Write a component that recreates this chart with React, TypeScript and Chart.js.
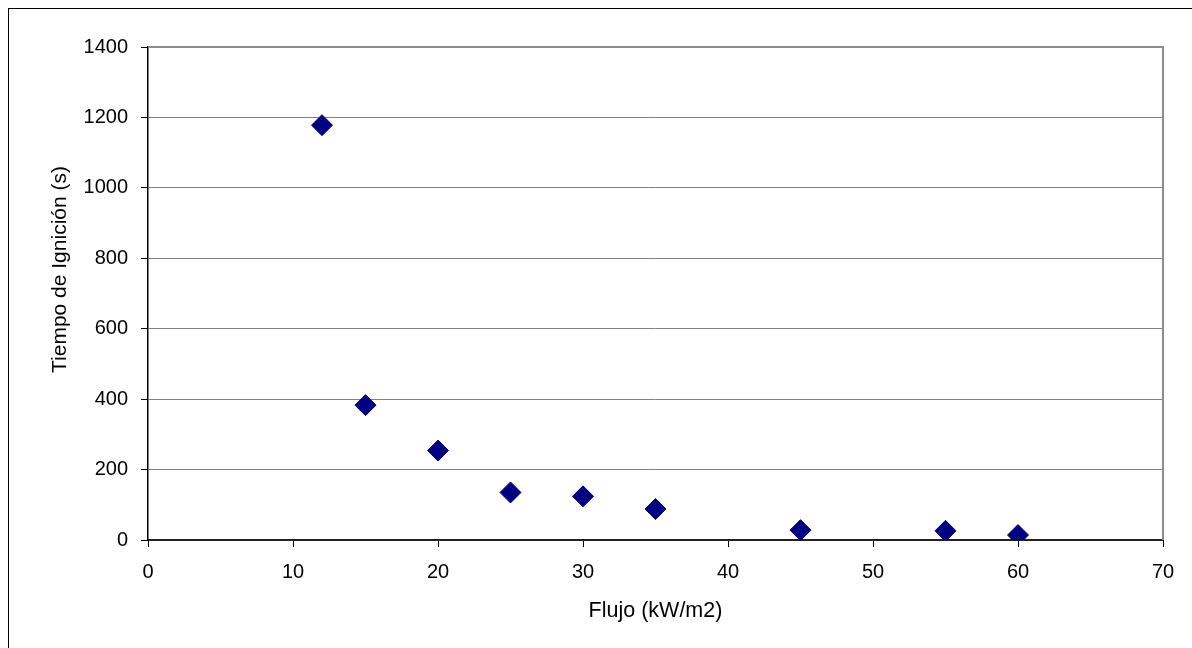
import React, { useEffect, useRef } from "react";
import { Chart, registerables } from "chart.js";

Chart.register(...registerables);

const flujo = [12, 15, 20, 25, 30, 35, 45, 55, 60];
const tiempo = [1178, 383, 254, 135, 124, 88, 28, 26, 14];
const xTitle = "Flujo (kW/m2)";
const yTitle = "Tiempo de Ignición (s)";
const xMin = 0, xMax = 70, xStep = 10;
const yMin = 0, yMax = 1400, yStep = 200;

const FONT = 'Arial, "Liberation Sans", sans-serif';

const frame = {
  id: "frame",
  beforeDatasetsDraw(chart: any) {
    const { ctx, chartArea: a } = chart;
    ctx.save();
    ctx.strokeStyle = "#8c8c8c";
    ctx.lineWidth = 2;
    ctx.beginPath();
    ctx.moveTo(a.left, a.top);
    ctx.lineTo(a.right, a.top);
    ctx.lineTo(a.right, a.bottom);
    ctx.stroke();
    ctx.restore();
  },
};

// vertical axis title, placed like the original (not centred on the plot)
const yAxisTitle = {
  id: "yAxisTitle",
  afterDraw(chart: any) {
    const { ctx } = chart;
    ctx.save();
    ctx.translate(57, 364);
    ctx.rotate(-Math.PI / 2);
    ctx.font = `21px ${FONT}`;
    ctx.fillStyle = "#000";
    ctx.textAlign = "left";
    ctx.textBaseline = "alphabetic";
    ctx.fillText(yTitle, 0, 0);
    ctx.restore();
  },
};

export default function App() {
  const ref = useRef<HTMLCanvasElement>(null);
  useEffect(() => {
    const chart = new Chart(ref.current!, {
      type: "scatter",
      data: {
        datasets: [
          {
            data: flujo.map((x, i) => ({ x, y: tiempo[i] })),
            pointStyle: "rectRot",
            pointRadius: 10.5,
            pointBorderWidth: 1,
            backgroundColor: "#000080",
            borderColor: "#000080",
            showLine: false,
          },
        ],
      },
      options: {
        animation: false,
        responsive: false,
        layout: { padding: { left: 40, top: 38, right: 29, bottom: 24 } },
        plugins: { legend: { display: false }, tooltip: { enabled: false } },
        scales: {
          x: {
            type: "linear",
            min: xMin,
            max: xMax,
            afterFit: (s: any) => { s.height = 84; },
            ticks: { stepSize: xStep, color: "#000", padding: 13, font: { family: FONT, size: 20 }, callback: (v: any) => String(v) },
            grid: { drawOnChartArea: false, drawTicks: true, tickLength: 7, tickColor: "#000", tickWidth: 1 },
            border: { color: "#222", width: 2 },
            title: { display: true, text: xTitle, color: "#000", padding: { top: 0, bottom: 0 }, font: { family: FONT, size: 21.5 } },
          },
          y: {
            type: "linear",
            min: yMin,
            max: yMax,
            afterFit: (s: any) => { s.width = 99; },
            ticks: { stepSize: yStep, color: "#000", padding: 13, font: { family: FONT, size: 20 }, callback: (v: any) => String(v) },
            grid: { color: "#808080", lineWidth: 1, drawTicks: true, tickLength: 7, tickColor: "#000", tickWidth: 1 },
            border: { color: "#000", width: 1.5 },
            title: { display: false, text: yTitle },
          },
        },
      },
      plugins: [frame, yAxisTitle],
    });
    return () => chart.destroy();
  }, []);
  return (
    <div style={{ position: "fixed", inset: 0, overflow: "hidden", background: "#fff" }}>
      <div style={{ position: "absolute", left: 8, top: 8, width: 1300, height: 800, border: "1px solid #000" }}>
        <canvas ref={ref} width={1183} height={639} style={{ display: "block", width: 1183, height: 639 }} />
      </div>
    </div>
  );
}
